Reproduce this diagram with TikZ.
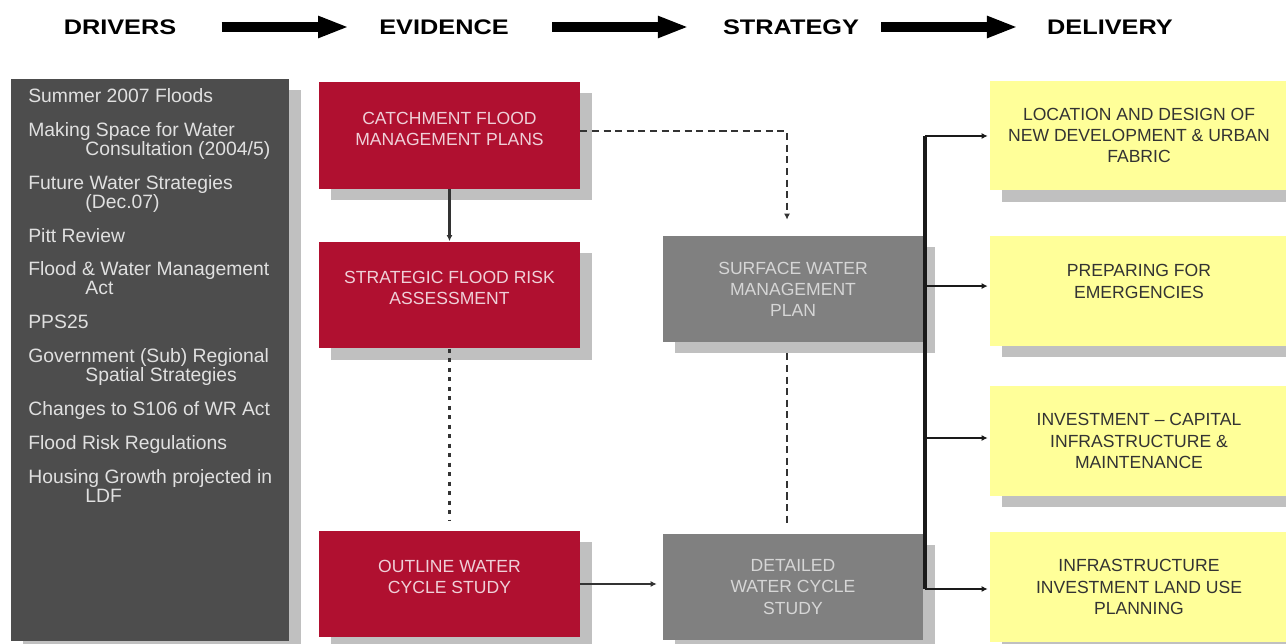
\documentclass[tikz,border=0pt]{standalone}
\usepackage{fontspec}
\setmainfont{Liberation Sans}
\newfontfamily\headfont[FakeStretch=1.2]{Liberation Sans}
\usepackage{tikz}
\usetikzlibrary{arrows.meta}
\usetikzlibrary{shadows}
\definecolor{drvgray}{HTML}{4D4D4D}
\definecolor{drvtext}{HTML}{E0E0E0}
\definecolor{shadowgray}{HTML}{C0C0C0}
\definecolor{floodred}{HTML}{B01030}
\definecolor{redtext}{HTML}{EFD0D8}
\definecolor{stratgray}{HTML}{808080}
\definecolor{graytext}{HTML}{D6D6D6}
\definecolor{delyellow}{HTML}{FFFF99}
\definecolor{deltext}{HTML}{333333}
\definecolor{linkgray}{HTML}{333333}
\definecolor{busblack}{HTML}{1A1A1A}

\tikzset{
	hdr/.style={font=\headfont\bfseries\fontsize{12}{14}\selectfont,inner sep=0pt},
	hdrarrow/.style={line width=5.7pt,-{Triangle[length=17.6pt,width=11.4pt]}},
	boxshadow/.style={general shadow={fill=shadowgray,shadow xshift=6.8pt,shadow yshift=-6.3pt}},
	boxfont/.style={font=\fontsize{10}{12}\selectfont,align=center},
	evibox/.style={boxshadow,boxfont,fill=floodred,text=redtext,minimum width=5.22cm,minimum height=2.14cm,text depth=8pt},
	strbox/.style={boxshadow,boxfont,fill=stratgray,text=graytext,minimum width=5.2cm,minimum height=2.12cm},
	delbox/.style={boxshadow,boxfont,fill=delyellow,text=deltext,minimum width=5.96cm,minimum height=2.2cm},
	link/.style={draw=linkgray,line width=1.5pt,-{Latex[length=3.5pt,width=3.5pt]}},
	dashlink/.style={draw=linkgray,line width=1.5pt,dash pattern=on 4pt off 2.6pt},
	dotlink/.style={draw=linkgray,line width=1.8pt,dash pattern=on 2.2pt off 3.2pt},
	bus/.style={draw=busblack,line width=2pt},
	branch/.style={draw=busblack,line width=1pt,-{Latex[length=3.5pt,width=3.5pt]}}
}

\begin{document}
\begin{tikzpicture}[x=0.02cm,y=-0.02cm]
	\useasboundingbox (0,0) rectangle (1286,644);
	% headings
	\node[hdr] (hdrdrv) at (120,27) {DRIVERS};
	\node[hdr] (hdrevi) at (444,27) {EVIDENCE};
	\node[hdr] (hdrstr) at (791,27) {STRATEGY};
	\node[hdr] (hdrdel) at (1110,27) {DELIVERY};
	\draw[hdrarrow,shorten <=0.9cm,shorten >=0.6cm] (hdrdrv) -- (hdrevi);
	\draw[hdrarrow,shorten <=0.86cm,shorten >=0.68cm] (hdrevi) -- (hdrstr);
	\draw[hdrarrow,shorten <=0.44cm,shorten >=0.58cm] (hdrstr) -- (hdrdel);

	% drivers
	\node[boxshadow,fill=drvgray,minimum width=5.56cm,minimum height=11.24cm] (drivers) at (150,360) {};
	\node[anchor=north west,inner sep=0pt,align=left,text=drvtext,font=\fontsize{11}{10.8}\selectfont] (drvlist) at (28,88) {Summer 2007 Floods\\[8.5pt]
		Making Space for Water\\ \hspace*{32.5pt}Consultation (2004/5)\\[8.5pt]
		Future Water Strategies\\ \hspace*{32.5pt}(Dec.07)\\[8.5pt]
		Pitt Review\\[8.5pt]
		Flood \& Water Management\\ \hspace*{32.5pt}Act\\[8.5pt]
		PPS25\\[8.5pt]
		Government (Sub) Regional\\ \hspace*{32.5pt}Spatial Strategies\\[8.5pt]
		Changes to S106 of WR Act\\[8.5pt]
		Flood Risk Regulations\\[8.5pt]
		Housing Growth projected in\\ \hspace*{32.5pt}LDF};

	% evidence
	\node[evibox] (cfmp) at (449.5,135.5) {CATCHMENT FLOOD\\MANAGEMENT PLANS};
	\node[evibox] (sfra) at (449.5,295) {STRATEGIC FLOOD RISK\\ASSESSMENT};
	\node[evibox] (owcs) at (449.5,584) {OUTLINE WATER\\CYCLE STUDY};

	% strategy
	\node[strbox] (swmp) at (793,289) {SURFACE WATER\\MANAGEMENT\\PLAN};
	\node[strbox] (dwcs) at (793,587) {DETAILED\\WATER CYCLE\\STUDY};

	% delivery
	\node[delbox] (loc) at (1139,135.5) {LOCATION AND DESIGN OF\\NEW DEVELOPMENT \& URBAN\\FABRIC};
	\node[delbox,text depth=11pt] (emg) at (1139,291) {PREPARING FOR\\EMERGENCIES};
	\node[delbox] (inv) at (1139,441) {INVESTMENT – CAPITAL\\INFRASTRUCTURE \&\\MAINTENANCE};
	\node[delbox] (lu) at (1139,587) {INFRASTRUCTURE\\INVESTMENT LAND USE\\PLANNING};

	% links
	\draw[link] (cfmp) -- (sfra);
	\draw[dashlink,link,shorten >=0.32cm] ([yshift=2.5pt]cfmp.east) -| ([xshift=-3.4pt]swmp.north);
	\draw[dotlink,shorten >=0.18cm] (sfra) -- (owcs);
	\draw[dashlink,shorten <=0.22cm,shorten >=0.2cm] ([xshift=-3.4pt]swmp.south) -- ([xshift=-3.4pt]dwcs.north);
	\draw[link,shorten >=0.12cm] (owcs.east) -- (owcs.east -| dwcs.west);

	% delivery bus
	\coordinate (bustop) at (925,136);
	\coordinate (busbot) at (925,589);
	\draw[bus] (bustop) -- (busbot);
	\draw[branch,shorten >=0.04cm] (bustop) -- (bustop -| loc.west);
	\draw[branch,shorten >=0.04cm] (bustop |- emg.west) ++(0,-5) -- ([yshift=2.8pt]emg.west);
	\draw[branch,shorten >=0.04cm] (bustop |- inv.west) ++(0,-3) -- ([yshift=1.7pt]inv.west);
	\draw[branch,shorten >=0.04cm] (busbot) -- (busbot -| lu.west);
\end{tikzpicture}
\end{document}
